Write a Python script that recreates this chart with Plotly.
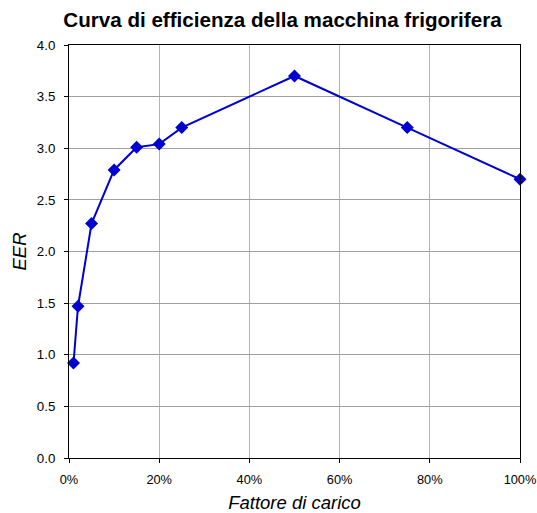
import plotly.graph_objects as go

# Fattore di carico (frazione) e EER
fattore_carico = [0.01, 0.02, 0.05, 0.10, 0.15, 0.20, 0.25, 0.50, 0.75, 1.00]
eer = [0.92, 1.47, 2.27, 2.79, 3.01, 3.04, 3.20, 3.70, 3.20, 2.70]

x_ticks = [0, 0.2, 0.4, 0.6, 0.8, 1.0]
x_labels = ["0%", "20%", "40%", "60%", "80%", "100%"]

fig = go.Figure(
    go.Scatter(
        x=fattore_carico,
        y=eer,
        mode="lines+markers",
        line=dict(color="#0000D0", width=2),
        marker=dict(symbol="diamond", size=10, color="#0000D0"),
        showlegend=False,
        cliponaxis=False,
    )
)

fig.update_layout(
    width=537,
    height=513,
    margin=dict(l=69, r=17, t=45, b=55),
    paper_bgcolor="white",
    plot_bgcolor="white",
    font=dict(family="Liberation Sans, Arial", size=13, color="black"),
    title=dict(
        text="<b>Curva di efficienza della macchina frigorifera</b>",
        x=0.526, xanchor="center", y=0.961, yanchor="middle",
        font=dict(size=20.6, color="black"),
    ),
)

fig.update_xaxes(
    range=[0, 1.0],
    tickvals=x_ticks,
    ticktext=x_labels,
    showgrid=True,
    gridcolor="#b4b4b4",
    gridwidth=1,
    showline=True,
    linecolor="black",
    linewidth=1,
    mirror=True,
    ticks="outside",
    ticklen=4,
    tickcolor="black",
    tickfont=dict(size=12.8, color="black"),
    ticklabelstandoff=6,
    ticklabeloverflow="allow",
    zeroline=False,
    automargin=False,
    title=dict(text="<i>Fattore di carico</i>", font=dict(size=18.5, color="black"), standoff=17),
)

fig.update_yaxes(
    range=[0, 4.0],
    dtick=0.5,
    tickformat=".1f",
    showgrid=True,
    gridcolor="#a0a0a0",
    gridwidth=1,
    showline=True,
    linecolor="black",
    linewidth=1,
    mirror=True,
    ticks="outside",
    ticklen=4,
    tickcolor="black",
    tickfont=dict(size=13.3, color="black"),
    ticklabelstandoff=6,
    zeroline=False,
    automargin=False,
    title=dict(text="<i>EER</i>", font=dict(size=18.5, color="black"), standoff=5),
)

# niente margine della pagina, così la figura occupa tutta la finestra
fig.write_html(
    "out.html",
    config={"displayModeBar": False},
    post_script="document.body.style.margin='0';document.body.style.overflow='hidden';",
)
